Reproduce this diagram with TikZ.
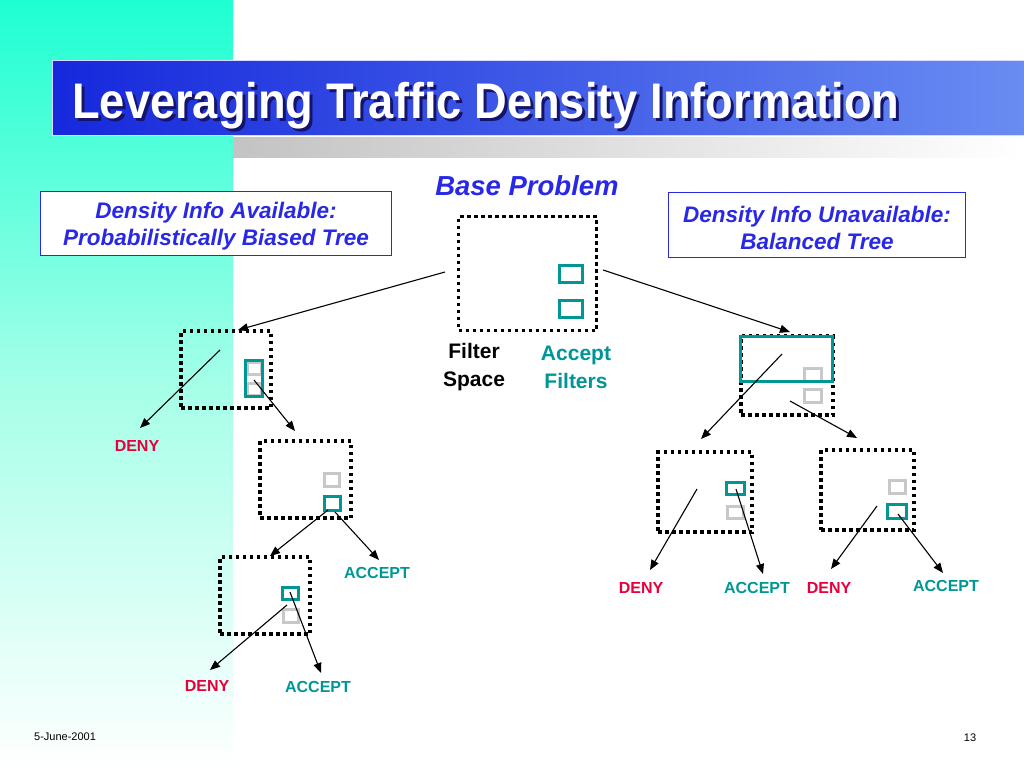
\documentclass[tikz,border=0pt]{standalone}
\usepackage{fontspec}
\setmainfont{Liberation Sans}
\usetikzlibrary{arrows.meta,positioning}
\definecolor{filterteal}{RGB}{0,150,150}
\definecolor{idlegray}{RGB}{200,200,200}
\definecolor{denyred}{RGB}{230,0,60}
\definecolor{infoblue}{RGB}{40,40,230}
\definecolor{stripaqua}{RGB}{30,255,210}
\definecolor{stripmid}{RGB}{165,255,232}
\definecolor{bardark}{RGB}{22,40,220}
\definecolor{barlight}{RGB}{105,140,242}
\definecolor{titleshadow}{RGB}{20,20,110}
\definecolor{bargray}{RGB}{195,195,195}
\newcommand{\slidetitle}{\scalebox{0.905}[1]{Leveraging Traffic Density Information}}

\begin{document}
\begin{tikzpicture}[x=1pt, y=-1pt,
    space/.style={draw=black, line width=3.5pt, dash pattern=on 3.5pt off 3.5pt, inner sep=0pt},
    accbox/.style={draw=filterteal, line width=3pt, inner sep=0pt},
    idlebox/.style={draw=idlegray, line width=3pt, inner sep=0pt},
    link/.style={-{Triangle[length=10pt,width=8pt]}, line width=1.1pt},
    verdict/.style={font=\bfseries\fontsize{16}{18}\selectfont, inner sep=0pt},
    infobox/.style={draw=infoblue, line width=1.5pt, fill=white, inner sep=0pt},
    infotext/.style={text=infoblue, align=center, inner sep=0pt,
      font=\bfseries\itshape\fontsize{22.5}{27}\selectfont}
  ]
  \useasboundingbox (0,0) rectangle (1024,768);

  % background
  \shade[top color=stripaqua, bottom color=stripmid] (0,0) rectangle (233,384);
  \shade[top color=stripmid, bottom color=white] (0,384) rectangle (233,768);
  \shade[left color=bargray, right color=white] (233,137) rectangle (1024,157);
  \shade[left color=bardark, right color=barlight, draw=blue!15, line width=1pt] (52,60) rectangle (1024,135);

  % title with shadow
  \node[anchor=base west, inner sep=0pt, font=\bfseries\fontsize{50}{50}\selectfont] (title) at (72,118)
    {\makebox[0pt][l]{\hspace{3pt}\raisebox{-3pt}{\color{titleshadow}\slidetitle}}\color{white}\slidetitle};

  % headings
  \node[anchor=base, inner sep=0pt, text=infoblue, font=\bfseries\itshape\fontsize{27.5}{27}\selectfont]
    (base) at (527,195) {Base Problem};
  \node[infobox, minimum width=351, minimum height=64] (avail) at (216,223.5) {};
  \node[infotext] (availtxt) at (216,226.5) {Density Info Available:\\Probabilistically Biased Tree};
  \node[infobox, minimum width=297, minimum height=65] (unavail) at (817,225) {};
  \node[infotext] (unavailtxt) at (817,228) {Density Info Unavailable:\\Balanced Tree};

  % base problem
  \node[space, minimum width=138, minimum height=114] (root) at (527.5,273.5) {};
  \node[accbox, minimum width=23, minimum height=17] (rootA) at (571,274) {};
  \node[accbox, minimum width=23, minimum height=17] (rootB) at (571,309) {};
  \node[align=center, inner sep=0pt, font=\bfseries\fontsize{21}{28}\selectfont] (fspace) at (474,367) {Filter\\Space};
  \node[align=center, inner sep=0pt, text=filterteal, font=\bfseries\fontsize{21}{28}\selectfont] (afilt) at (576,367) {Accept\\Filters};

  % biased tree
  \node[space, minimum width=90, minimum height=77] (l1) at (226,369.5) {};
  \node[idlebox, minimum width=14, minimum height=12] (l1a) at (254,368) {};
  \node[idlebox, minimum width=14, minimum height=12] (l1b) at (254,389) {};
  \node[accbox, minimum width=17, minimum height=36] (l1acc) at (254,378.5) {};
  \node[space, minimum width=91, minimum height=77] (l2) at (305.5,479.5) {};
  \node[idlebox, minimum width=15, minimum height=13] (l2a) at (332,480) {};
  \node[accbox, minimum width=16, minimum height=14] (l2b) at (332.5,503.5) {};
  \node[space, minimum width=90, minimum height=77] (l3) at (265,595.5) {};
  \node[accbox, minimum width=16, minimum height=12] (l3a) at (290.5,593.5) {};
  \node[idlebox, minimum width=15, minimum height=13] (l3b) at (291,616) {};

  % balanced tree
  \node[space, minimum width=92, minimum height=79] (r1) at (787,375.5) {};
  \node[idlebox, minimum width=17, minimum height=13] (r1a) at (813,375) {};
  \node[idlebox, minimum width=17, minimum height=13] (r1b) at (813,396) {};
  \node[accbox, minimum width=92, minimum height=45] (r1acc) at (786.5,359) {};
  \node[space, minimum width=94, minimum height=80] (rl) at (705,492) {};
  \node[accbox, minimum width=18, minimum height=12] (rla) at (735.5,488.5) {};
  \node[idlebox, minimum width=16, minimum height=12] (rlb) at (735.5,512.5) {};
  \node[space, minimum width=93, minimum height=80] (rr) at (867.5,490) {};
  \node[idlebox, minimum width=16, minimum height=13] (rra) at (897.5,487) {};
  \node[accbox, minimum width=19, minimum height=14] (rrb) at (897,511.5) {};

  % verdicts
  \node[verdict, text=denyred] (deny1) at (137,446) {DENY};
  \node[verdict, text=filterteal] (acc2) at (377,573) {ACCEPT};
  \node[verdict, text=denyred] (deny3) at (207,686) {DENY};
  \node[verdict, text=filterteal] (acc3) at (318,687) {ACCEPT};
  \node[verdict, text=denyred] (denyl) at (641,588) {DENY};
  \node[verdict, text=filterteal] (accl) at (757,588) {ACCEPT};
  \node[verdict, text=denyred] (denyr) at (829,588) {DENY};
  \node[verdict, text=filterteal] (accr) at (946,586) {ACCEPT};

  % arrow ends
  \coordinate (s0) at (445,272);  \coordinate (t0) at (238,330);
  \coordinate (s1) at (603,270);  \coordinate (t1) at (790,332);
  \coordinate (s2) at (220,350);  \coordinate (t2) at (140,428);
  \coordinate (s3) at (254,380);  \coordinate (t3) at (295,431);
  \coordinate (s4) at (328,510);  \coordinate (t4) at (270,556);
  \coordinate (s5) at (335,512);  \coordinate (t5) at (379,560);
  \coordinate (s6) at (287,605);  \coordinate (t6) at (210,670);
  \coordinate (s7) at (290,592);  \coordinate (t7) at (321,673);
  \coordinate (s8) at (782,354);  \coordinate (t8) at (701,439);
  \coordinate (s9) at (790,401);  \coordinate (t9) at (857,438);
  \coordinate (s10) at (697,489); \coordinate (t10) at (650,570);
  \coordinate (s11) at (736,489); \coordinate (t11) at (763,574);
  \coordinate (s12) at (877,506); \coordinate (t12) at (831,569);
  \coordinate (s13) at (898,514); \coordinate (t13) at (943,573);
  \foreach \i in {0,...,13}
    \draw[link] (s\i) -- (t\i);

  % footer
  \node[anchor=west, inner sep=0pt, font=\fontsize{11}{11}\selectfont] (date) at (34,737) {5-June-2001};
  \node[inner sep=0pt, font=\fontsize{11}{11}\selectfont] (page) at (970,738) {13};
\end{tikzpicture}
\end{document}
